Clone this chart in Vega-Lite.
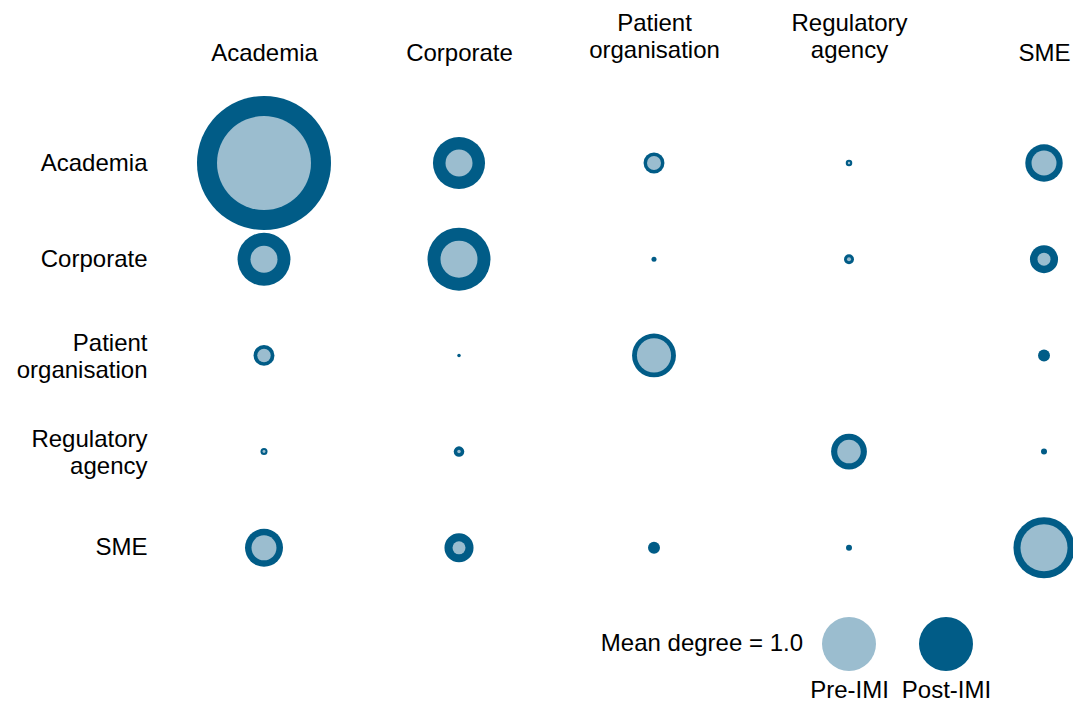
{
  "$schema": "https://vega.github.io/schema/vega-lite/v6.json",
  "width": 780,
  "height": 481,
  "autosize": {"type": "none"},
  "padding": {"left": 264, "top": 163, "right": 29, "bottom": 60},
  "background": "white",
  "config": {
    "view": {"stroke": null},
    "font": "Liberation Sans",
    "axis": {"labelFont": "Liberation Sans", "labelColor": "#000000", "labelFontSize": 24, "labelLineHeight": 27, "domain": false, "ticks": false, "tickSize": 0, "grid": false, "labelOverlap": false, "title": null}
  },
  "datasets": {
    "cells": [
      {"row": "Academia", "col": "Academia", "post": 6.16, "pre": 3.03},
      {"row": "Academia", "col": "Corporate", "post": 0.93, "pre": 0.25},
      {"row": "Academia", "col": "Patient organisation", "post": 0.15, "pre": 0.067},
      {"row": "Academia", "col": "Regulatory agency", "post": 0.0145, "pre": 0.002},
      {"row": "Academia", "col": "SME", "post": 0.48, "pre": 0.214},
      {"row": "Corporate", "col": "Academia", "post": 0.96, "pre": 0.25},
      {"row": "Corporate", "col": "Corporate", "post": 1.36, "pre": 0.47},
      {"row": "Corporate", "col": "Patient organisation", "post": 0.0086, "pre": 0},
      {"row": "Corporate", "col": "Regulatory agency", "post": 0.034, "pre": 0.0055},
      {"row": "Corporate", "col": "SME", "post": 0.27, "pre": 0.058},
      {"row": "Patient organisation", "col": "Academia", "post": 0.15, "pre": 0.0625},
      {"row": "Patient organisation", "col": "Corporate", "post": 0.0042, "pre": 0},
      {"row": "Patient organisation", "col": "Patient organisation", "post": 0.66, "pre": 0.4},
      {"row": "Patient organisation", "col": "SME", "post": 0.049, "pre": 0},
      {"row": "Regulatory agency", "col": "Academia", "post": 0.0168, "pre": 0.003},
      {"row": "Regulatory agency", "col": "Corporate", "post": 0.038, "pre": 0.0042},
      {"row": "Regulatory agency", "col": "Regulatory agency", "post": 0.44, "pre": 0.19},
      {"row": "Regulatory agency", "col": "SME", "post": 0.0123, "pre": 0},
      {"row": "SME", "col": "Academia", "post": 0.495, "pre": 0.214},
      {"row": "SME", "col": "Corporate", "post": 0.29, "pre": 0.058},
      {"row": "SME", "col": "Patient organisation", "post": 0.049, "pre": 0},
      {"row": "SME", "col": "Regulatory agency", "post": 0.0123, "pre": 0},
      {"row": "SME", "col": "SME", "post": 1.28, "pre": 0.76}
    ],
    "legend": [
      {"row": "legend", "series": "Pre-IMI", "degree": 1.0},
      {"row": "legend", "series": "Post-IMI", "degree": 1.0}
    ]
  },
  "encoding": {
    "y": {
      "field": "row",
      "type": "nominal",
      "scale": {"type": "point", "padding": 0, "domain": ["Academia", "Corporate", "Patient organisation", "Regulatory agency", "SME", "legend"]},
      "axis": {
        "orient": "left",
        "labelPadding": 117,
        "labelAlign": "right",
        "labelBaseline": "middle",
        "labelOffset": {"condition": {"test": "indexof(datum.value, ' ') >= 0", "value": -12}, "value": 0},
        "labelExpr": "datum.value == 'legend' ? '' : split(datum.value, ' ')"
      }
    }
  },
  "layer": [
    {
      "data": {"name": "cells"},
      "encoding": {
        "x": {
          "field": "col",
          "type": "nominal",
          "scale": {"type": "point", "padding": 0, "domain": ["Academia", "Corporate", "Patient organisation", "Regulatory agency", "SME"]},
          "axis": {
            "orient": "top",
            "labelPadding": {"condition": {"test": "indexof(datum.value, ' ') >= 0", "value": 128}, "value": 98},
            "labelAngle": 0,
            "labelAlign": "center",
            "labelBaseline": "bottom",
            "labelExpr": "split(datum.value, ' ')"
          }
        }
      },
      "layer": [
        {
          "mark": {"type": "circle", "color": "#015C87", "opacity": 1, "strokeWidth": 0},
          "encoding": {"size": {"field": "post", "type": "quantitative", "scale": {"type": "linear", "domain": [0, 7], "range": [0, 20412]}, "legend": null}}
        },
        {
          "mark": {"type": "circle", "color": "#9BBDCF", "opacity": 1, "strokeWidth": 0},
          "encoding": {"size": {"field": "pre", "type": "quantitative", "legend": null}}
        }
      ]
    },
    {
      "data": {"name": "legend"},
      "encoding": {
        "x": {
          "field": "series",
          "type": "nominal",
          "scale": {"type": "point", "domain": ["Pre-IMI", "Post-IMI"], "range": [585, 682], "padding": 0},
          "axis": {"orient": "bottom", "labelPadding": 34, "labelAngle": 0, "labelAlign": "center", "labelBaseline": "top"}
        }
      },
      "layer": [
        {
          "mark": {"type": "circle", "opacity": 1, "strokeWidth": 0},
          "encoding": {
            "size": {"field": "degree", "type": "quantitative", "legend": null},
            "color": {"field": "series", "type": "nominal", "scale": {"domain": ["Pre-IMI", "Post-IMI"], "range": ["#9BBDCF", "#015C87"]}, "legend": null}
          }
        },
        {
          "transform": [{"filter": "datum.series == 'Pre-IMI'"}],
          "mark": {"type": "text", "align": "right", "baseline": "middle", "dx": -46, "fontSize": 24, "font": "Liberation Sans", "color": "#000000"},
          "encoding": {"text": {"value": "Mean degree = 1.0"}}
        }
      ]
    }
  ],
  "resolve": {"scale": {"x": "independent"}, "axis": {"x": "independent"}}
}
